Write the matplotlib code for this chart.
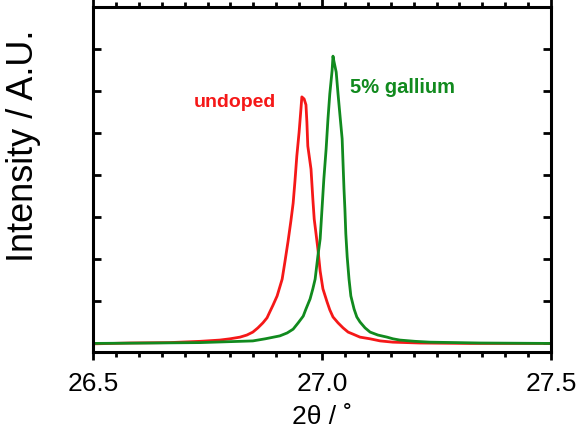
import numpy as np
import matplotlib.pyplot as plt

plt.rcParams['font.family'] = ['Liberation Sans', 'DejaVu Sans']

# undoped
x_undoped = [26.500, 26.581, 26.668, 26.734, 26.777, 26.799, 26.821, 26.836, 26.849, 26.860,
             26.871, 26.880, 26.886, 26.893, 26.902, 26.913, 26.919, 26.926, 26.932, 26.937,
             26.941, 26.945, 26.950, 26.954, 26.956, 26.961, 26.965, 26.967, 26.969, 26.976,
             26.980, 26.983, 26.987, 26.991, 26.996, 27.002, 27.011, 27.017, 27.024, 27.035,
             27.046, 27.057, 27.068, 27.083, 27.105, 27.127, 27.155, 27.214, 27.323, 27.500]
y_undoped = [-0.02, 0.0, 0.01, 0.04, 0.07, 0.10, 0.14, 0.19, 0.26, 0.36,
             0.48, 0.60, 0.74, 0.90, 1.12, 1.52, 1.93, 2.43, 2.90, 3.33,
             3.86, 4.45, 5.02, 5.57, 5.86, 5.81, 5.67, 5.26, 4.69, 4.14,
             3.43, 2.95, 2.60, 2.24, 1.71, 1.29, 0.98, 0.79, 0.62, 0.48,
             0.36, 0.26, 0.21, 0.14, 0.10, 0.05, 0.02, 0.0, -0.01, -0.01]

# 5% gallium
x_ga = [26.500, 26.624, 26.734, 26.821, 26.849, 26.876, 26.908, 26.924, 26.937, 26.948,
        26.959, 26.965, 26.974, 26.980, 26.985, 26.991, 26.996, 27.000, 27.004, 27.009,
        27.013, 27.017, 27.022, 27.024, 27.026, 27.031, 27.035, 27.039, 27.044, 27.046,
        27.048, 27.050, 27.052, 27.055, 27.059, 27.063, 27.070, 27.076, 27.083, 27.094,
        27.105, 27.122, 27.142, 27.155, 27.170, 27.203, 27.236, 27.345, 27.500]
y_ga = [-0.01, 0.0, 0.01, 0.04, 0.05, 0.10, 0.17, 0.24, 0.33, 0.48,
        0.64, 0.81, 1.05, 1.29, 1.52, 2.07, 2.48, 3.19, 3.90, 4.62,
        5.33, 5.93, 6.48, 6.83, 6.71, 6.45, 5.93, 5.45, 4.86, 4.26,
        3.67, 3.19, 2.60, 2.05, 1.52, 1.12, 0.81, 0.62, 0.50, 0.36,
        0.26, 0.19, 0.14, 0.10, 0.07, 0.04, 0.02, 0.0, -0.01]

red = '#f51818'
green = '#118a1e'

fig = plt.figure(figsize=(5.77, 4.39), dpi=100)
ax = fig.add_axes([93/577, 1 - 353/439, (551 - 93)/577, (353 - 8)/439])

ax.plot(x_undoped, y_undoped, color=red, lw=2)
ax.plot(x_ga, y_ga, color=green, lw=2)

ax.text(26.810, 5.74, 'undoped', color=red, fontsize=14, fontweight='bold',
        ha='center', va='center')
ax.text(27.175, 6.10, '5% gallium', color=green, fontsize=14.5, fontweight='bold',
        ha='center', va='center')

ax.set_xlim(26.5, 27.5)
ax.set_ylim(-0.214, 8.0)
ax.set_xticks([26.5, 27.0, 27.5])
ax.set_xticklabels(['26.5', '27.0', '27.5'])
ax.set_xticks(np.arange(26.5, 27.501, 0.05), minor=True)
ax.set_yticks(np.arange(0, 8))
ax.set_yticklabels([])
ax.xaxis.set_ticks_position('both')
ax.yaxis.set_ticks_position('both')

for s in ax.spines.values():
    s.set_linewidth(2.2)

ax.tick_params(axis='x', which='major', direction='out', length=6, width=2,
               labelsize=19, pad=8)
ax.tick_params(axis='x', which='minor', direction='out', length=3.5, width=2)
ax.tick_params(axis='y', which='major', direction='in', length=6, width=2)

ax.set_xlabel('2θ / ˚', fontsize=19, labelpad=6)
ax.set_ylabel('Intensity / A.U.', fontsize=26)
ax.yaxis.set_label_coords(-0.113, 0.60)

fig.savefig('out.png', dpi=100)
